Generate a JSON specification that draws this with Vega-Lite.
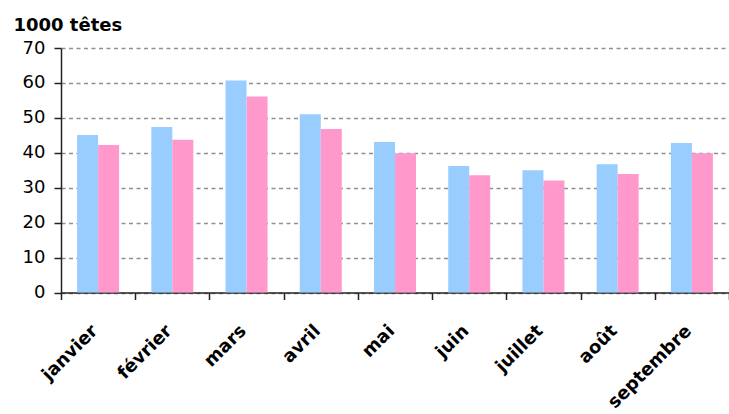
{
  "$schema": "https://vega.github.io/schema/vega-lite/v6.json",
  "width": 668,
  "height": 244.5,
  "autosize": {"type": "none"},
  "padding": {"left": 61, "top": 48, "right": 0, "bottom": 121.5},
  "background": "white",
  "config": {"view": {"stroke": null}, "font": "DejaVu Sans"},
  "data": {
    "values": [
      {"mois": "janvier", "serie": "série 1", "valeur": 45.1},
      {"mois": "janvier", "serie": "série 2", "valeur": 42.2},
      {"mois": "février", "serie": "série 1", "valeur": 47.4},
      {"mois": "février", "serie": "série 2", "valeur": 43.7},
      {"mois": "mars", "serie": "série 1", "valeur": 60.7},
      {"mois": "mars", "serie": "série 2", "valeur": 56.1},
      {"mois": "avril", "serie": "série 1", "valeur": 51.0},
      {"mois": "avril", "serie": "série 2", "valeur": 46.8},
      {"mois": "mai", "serie": "série 1", "valeur": 43.1},
      {"mois": "mai", "serie": "série 2", "valeur": 39.9},
      {"mois": "juin", "serie": "série 1", "valeur": 36.2},
      {"mois": "juin", "serie": "série 2", "valeur": 33.6},
      {"mois": "juillet", "serie": "série 1", "valeur": 35.0},
      {"mois": "juillet", "serie": "série 2", "valeur": 32.1},
      {"mois": "août", "serie": "série 1", "valeur": 36.7},
      {"mois": "août", "serie": "série 2", "valeur": 33.9},
      {"mois": "septembre", "serie": "série 1", "valeur": 42.8},
      {"mois": "septembre", "serie": "série 2", "valeur": 39.9}
    ]
  },
  "mark": {"type": "bar"},
  "encoding": {
    "x": {
      "field": "mois",
      "type": "nominal",
      "sort": ["janvier", "février", "mars", "avril", "mai", "juin", "juillet", "août", "septembre"],
      "scale": {"paddingInner": 0, "paddingOuter": 0},
      "axis": {
        "title": null,
        "labelAngle": -45,
        "labelAlign": "right",
        "labelBaseline": "alphabetic",
        "labelFont": "DejaVu Sans",
        "labelFontWeight": "bold",
        "labelFontSize": 18,
        "labelColor": "black",
        "labelPadding": 32,
        "labelOverlap": false,
        "labelLimit": 0,
        "tickBand": "extent",
        "tickSize": 7,
        "tickColor": "#222",
        "tickWidth": 1.5,
        "domainColor": "#222",
        "domainWidth": 1.5,
        "grid": false
      }
    },
    "xOffset": {"field": "serie", "type": "nominal", "scale": {"paddingInner": 0, "paddingOuter": 0.767}},
    "y": {
      "field": "valeur",
      "type": "quantitative",
      "scale": {"domain": [0, 70], "nice": false},
      "axis": {
        "values": [0, 10, 20, 30, 40, 50, 60, 70],
        "title": "1000 têtes",
        "titleAngle": 0,
        "titleAlign": "left",
        "titleBaseline": "alphabetic",
        "titleX": -48,
        "titleY": -18,
        "titleFont": "DejaVu Sans",
        "titleFontSize": 18,
        "titleFontWeight": "bold",
        "titleColor": "black",
        "labelFont": "DejaVu Sans",
        "labelFontSize": 18,
        "labelColor": "black",
        "labelPadding": 9,
        "tickSize": 7,
        "tickColor": "#222",
        "tickWidth": 1.5,
        "domainColor": "#222",
        "domainWidth": 1.5,
        "grid": true,
        "gridDash": [4, 3.5],
        "gridColor": "#909090",
        "gridWidth": 1.5
      }
    },
    "color": {
      "field": "serie",
      "type": "nominal",
      "scale": {"range": ["#99CCFF", "#FF99CC"]},
      "legend": null
    }
  }
}
